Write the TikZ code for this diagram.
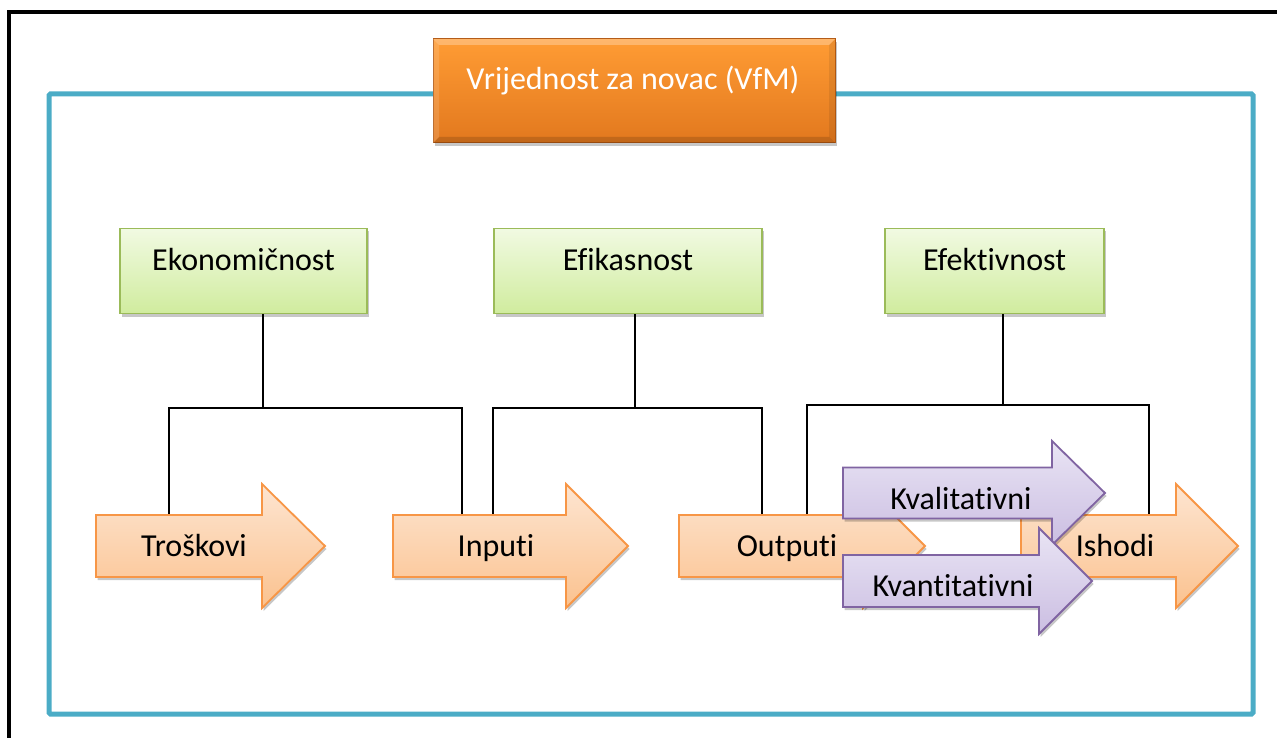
\documentclass[tikz,border=0pt]{standalone}
\usepackage{fontspec}
\setmainfont{Carlito}[Ligatures=NoCommon]
\usetikzlibrary{shadows}
\definecolor{tealline}{RGB}{75,172,198}
\definecolor{gtop}{RGB}{241,250,226}
\definecolor{gbot}{RGB}{208,236,158}
\definecolor{gborder}{RGB}{155,187,89}
\definecolor{otop}{RGB}{253,229,209}
\definecolor{obot}{RGB}{251,194,143}
\definecolor{oborder}{RGB}{247,150,70}
\definecolor{ptop}{RGB}{233,228,244}
\definecolor{pbot}{RGB}{203,190,226}
\definecolor{pborder}{RGB}{128,100,162}
\definecolor{htop}{RGB}{255,156,52}
\definecolor{hbot}{RGB}{226,120,30}
\definecolor{hborder}{RGB}{178,88,18}
\newcommand{\myarrow}[7]{%
  \path[#7] (#1,{#4-#5}) -- (#2,{#4-#5}) -- (#2,{#4-#6}) -- (#3,#4)
    -- (#2,{#4+#6}) -- (#2,{#4+#5}) -- (#1,{#4+#5}) -- cycle;}
\begin{document}
\begin{tikzpicture}[x=1pt,y=-1pt,
  txt/.style={font=\fontsize{32}{38}\selectfont, anchor=base, inner sep=0pt},
  softshadow/.style={drop shadow={shadow xshift=1.5pt, shadow yshift=-3pt, opacity=0.22, fill=black}},
  gbox/.style={draw=gborder, line width=1.6pt, top color=gtop, bottom color=gbot, inner sep=0pt, softshadow},
  hbox/.style={draw=hborder, line width=1pt, top color=htop, bottom color=hbot, inner sep=0pt, softshadow},
  conn/.style={line width=1.8pt, black},
  oarr/.style={draw=oborder, line width=1.8pt, top color=otop, bottom color=obot, line join=miter, softshadow},
  parr/.style={draw=pborder, line width=1.8pt, top color=ptop, bottom color=pbot, line join=miter, softshadow}
]
\useasboundingbox (0,0) rectangle (1277,738);
% outer black frame (cut at right and bottom)
\draw[line width=4pt, line join=miter] (8.5,760) -- (8.5,12.5) -- (1300,12.5);
% teal frame
\draw[tealline, line width=5pt, rounded corners=1.5pt] (49,94) rectangle (1253,714);

% header
\node[hbox, minimum width=402pt, minimum height=104pt] (vfm) at (634,91) {};
\fill[white, opacity=0.28] (433,39) -- (835,39) -- (829,45) -- (439,45) -- cycle;
\fill[white, opacity=0.14] (433,39) -- (439,45) -- (439,137) -- (433,143) -- cycle;
\fill[black, opacity=0.14] (433,143) -- (439,137) -- (829,137) -- (835,143) -- cycle;
\fill[black, opacity=0.08] (835,39) -- (829,45) -- (829,137) -- (835,143) -- cycle;
\node[txt, white] (vfmT) at (633,90) {Vrijednost za novac (VfM)};

% green boxes
\node[gbox, minimum width=247pt, minimum height=85pt] (eko) at (243.5,271) {};
\node[gbox, minimum width=268pt, minimum height=85pt] (efi) at (628,271) {};
\node[gbox, minimum width=219pt, minimum height=85pt] (efe) at (994.5,271) {};
\node[txt] (ekoT) at (243.5,270) {Ekonomičnost};
\node[txt] (efiT) at (628,270) {Efikasnost};
\node[txt] (efeT) at (994.5,270) {Efektivnost};

% connector coordinates
\coordinate (ekoJ) at (263,408);
\coordinate (efiJ) at (635,408);
\coordinate (efeJ) at (1003,405);
\coordinate (trosA) at (169,515);
\coordinate (inpA1) at (462,515);
\coordinate (inpA2) at (493,515);
\coordinate (outA1) at (762,515);
\coordinate (outA2) at (807,515);
\coordinate (ishA) at (1149,515);

\draw[conn] (eko.south -| ekoJ) -- (ekoJ);
\draw[conn] (ekoJ) -| (trosA);
\draw[conn] (ekoJ) -| (inpA1);
\draw[conn] (efi.south -| efiJ) -- (efiJ);
\draw[conn] (efiJ) -| (inpA2);
\draw[conn] (efiJ) -| (outA1);
\draw[conn] (efe.south -| efeJ) -- (efeJ);
\draw[conn] (efeJ) -| (outA2);
\draw[conn] (efeJ) -| (ishA);

% orange arrows
\myarrow{96}{262}{325}{546}{31}{62}{oarr}
\myarrow{393}{566}{628}{546}{31}{62}{oarr}
\myarrow{679}{863}{925}{546}{31}{62}{oarr}
\myarrow{1021}{1176}{1238}{546}{31}{62}{oarr}
\node[txt] (trosT) at (194,556) {Troškovi};
\node[txt] (inpT) at (496,556) {Inputi};
\node[txt] (outT) at (787,556) {Outputi};
\node[txt] (ishT) at (1115,556) {Ishodi};

% purple arrows
\myarrow{843}{1052}{1105}{493}{25.5}{52}{parr}
\node[txt] (kvalT) at (961,509) {Kvalitativni};
\myarrow{843}{1039}{1092}{581}{26}{53}{parr}
\node[txt] (kvanT) at (953,596) {Kvantitativni};
\end{tikzpicture}
\end{document}
